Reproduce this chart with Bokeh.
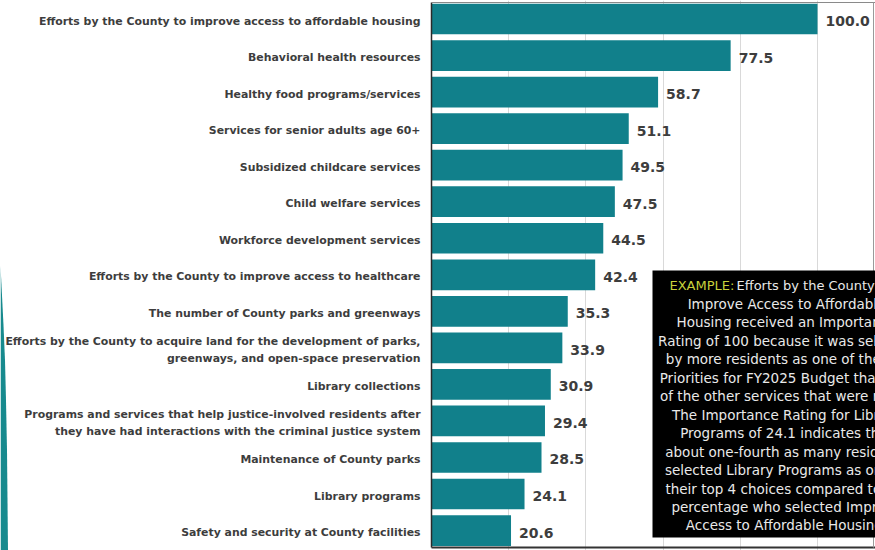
from bokeh.plotting import figure
from bokeh.models import Range1d, ColumnDataSource, Grid, FixedTicker
from bokeh.core.properties import value
from bokeh.embed import file_html
from bokeh.resources import INLINE

# ---------------- data ----------------
services = [
    "Efforts by the County to improve access to affordable housing",
    "Behavioral health resources",
    "Healthy food programs/services",
    "Services for senior adults age 60+",
    "Subsidized childcare services",
    "Child welfare services",
    "Workforce development services",
    "Efforts by the County to improve access to healthcare",
    "The number of County parks and greenways",
    "Efforts by the County to acquire land for the development of parks,\ngreenways, and open-space preservation",
    "Library collections",
    "Programs and services that help justice-involved residents after\nthey have had interactions with the criminal justice system",
    "Maintenance of County parks",
    "Library programs",
    "Safety and security at County facilities",
]
ratings = [100.0, 77.5, 58.7, 51.1, 49.5, 47.5, 44.5, 42.4, 35.3, 33.9, 30.9, 29.4, 28.5, 24.1, 20.6]
grid_values = [20, 40, 60, 80, 100]

example_head = "EXAMPLE:"
example_first = "Efforts by the County to"
example_lines = [
    "Improve Access to Affordable",
    "Housing received an Importance",
    "Rating of 100 because it was selected",
    "by more residents as one of the top",
    "Priorities for FY2025 Budget than any",
    "of the other services that were rated.",
    "The Importance Rating for Library",
    "Programs of 24.1 indicates that",
    "about one-fourth as many residents",
    "selected Library Programs as one of",
    "their top 4 choices compared to the",
    "percentage who selected Improve",
    "Access to Affordable Housing.",
]

# ---------------- layout helpers (pixel -> data) ----------------
W, H = 875, 550
X0_PX = 431.0
PX_PER_UNIT = 3.86
ROW0_PX = 18.5
ROW_PX = 36.54


def xd(px):
    return (px - X0_PX) / PX_PER_UNIT


def yd(py):
    return (py - ROW0_PX) / ROW_PX


TEAL = "#11808b"
LABEL_COLOR = "#3d3d3d"
LABEL_FONT = value("DejaVu Sans")
BOX_FONT = value("DejaVu Sans")

p = figure(
    width=W, height=H,
    x_range=Range1d(xd(0), xd(W)),
    y_range=Range1d(yd(H), yd(0)),
    output_backend="svg", toolbar_location=None,
    x_axis_location=None, y_axis_location=None,
    min_border=0, min_border_left=0, min_border_right=0,
    min_border_top=0, min_border_bottom=0,
)
p.outline_line_color = None
p.background_fill_color = "white"
p.border_fill_color = "white"
p.center = []  # drop default grids

grid = Grid(dimension=0, ticker=FixedTicker(ticks=grid_values),
            grid_line_color="#d9d9d9", grid_line_width=1)
p.add_layout(grid)

idx = list(range(len(services)))
src = ColumnDataSource(dict(
    y=idx, rating=ratings, service=services,
    label=[f"{v:.1f}" for v in ratings],
))

# bars
p.hbar(y="y", left=0, right="rating", height=0.84, source=src,
       fill_color=TEAL, line_color=None)

# value labels
p.text(x="rating", y="y", text="label", source=src,
       x_offset=8, y_offset=2, text_align="left", text_baseline="middle",
       text_font=LABEL_FONT, text_font_style="bold", text_font_size="14px",
       text_color=LABEL_COLOR)

# category labels
p.text(x=0, y="y", text="service", source=src,
       x_offset=-11, y_offset=2, text_align="right", text_baseline="middle",
       text_font=LABEL_FONT, text_font_style="bold", text_font_size="10.9px",
       text_color=LABEL_COLOR, text_line_height=1.35)

# chart box borders
p.segment(x0=[0], y0=[yd(2)], x1=[0], y1=[yd(547)], line_color="#2a2a2a", line_width=1.5)
p.segment(x0=[0], y0=[yd(547)], x1=[xd(W)], y1=[yd(547)], line_color="#333333", line_width=2)
p.segment(x0=[0], y0=[yd(2)], x1=[xd(W)], y1=[yd(2)], line_color="#8a8a8a", line_width=1)
p.segment(x0=[xd(873)], y0=[yd(2)], x1=[xd(873)], y1=[yd(547)], line_color="#9a9a9a", line_width=1)

# example box
p.quad(left=[xd(652)], right=[xd(W) + 20], top=[yd(270)], bottom=[yd(537)],
       fill_color="black", line_color=None)
line_step = 18.46
p.text(x=[xd(669)], y=[yd(285)], text=[example_head], text_align="left", text_baseline="middle",
       text_font=BOX_FONT, text_font_size="13px", text_color="#c9d23c")
p.text(x=[xd(736)], y=[yd(285)], text=[example_first], text_align="left", text_baseline="middle",
       text_font=BOX_FONT, text_font_size="13px", text_color="#e9e9e9")
p.text(x=[xd(786)] * len(example_lines),
       y=[yd(285 + line_step * (i + 1)) for i in range(len(example_lines))],
       text=example_lines, text_align="center", text_baseline="middle",
       text_font=BOX_FONT, text_font_size="13.5px", text_color="#e9e9e9")

# decorative teal arc at the left edge
arc_px = [(0, 265), (1.5, 295), (3, 325), (4.5, 360), (5.5, 400), (6.5, 450), (7, 500), (7.5, 550), (0, 550)]
p.patch(x=[xd(a) for a, b in arc_px], y=[yd(b) for a, b in arc_px],
        fill_color="#178a8e", line_color=None)

open("out.html", "w").write(file_html(p, INLINE))
